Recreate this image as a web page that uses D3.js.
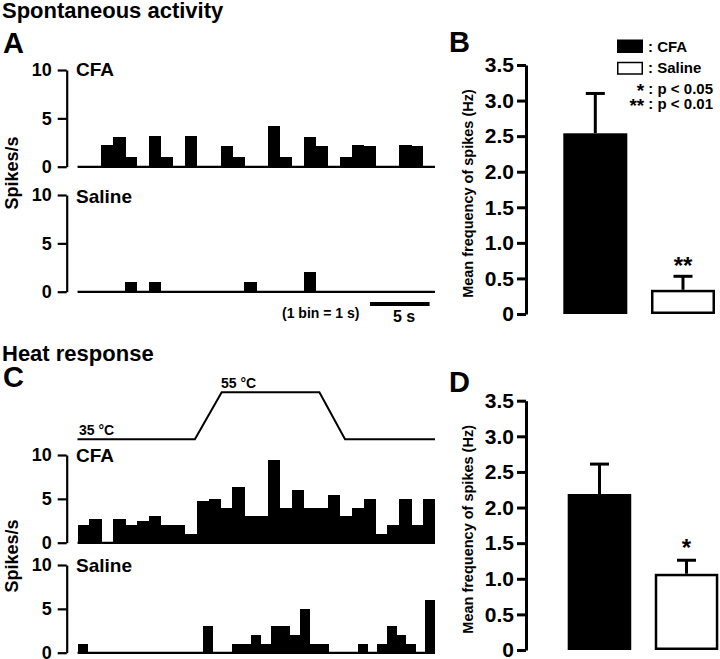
<!DOCTYPE html>
<html>
<head>
<meta charset="utf-8">
<script src="https://cdn.jsdelivr.net/npm/d3@7"></script>
<style>
html,body{margin:0;padding:0;background:#fff;}
svg{display:block;}
text{font-family:"Liberation Sans",Arial,Helvetica,sans-serif;font-weight:bold;fill:#000;}
</style>
</head>
<body>
<script>
// ---- data ----
const spontCFA    = [0,0,2.2,3.1,1,0,3.2,1,0,3.2,0,0,2.1,1,0,0,4.2,1,0,3.1,2.1,0,1,2.2,2.1,0,0,2.2,2.1,0];
const spontSaline = [0,0,0,0,1,0,1,0,0,0,0,0,0,0,1,0,0,0,0,2,0,0,0,0,0,0,0,0,0,0];
const heatCFA     = [2,2.7,0,2.7,2,2.5,3,2,2,1,4.7,5,4,6.4,3,3,9.4,4,6,4,4,5.4,3,4,5,1,2,5,2,5];
const heatSaline  = [1,0,0,0,0,0,0,0,0,0,0,0,0,3,0,0,1,1,2,1,3,3,2,5,1,1,0,0,0,1,0,1,3,2,1,0,6];
const tempTime    = [0,9.85,12.1,20.3,22.45,30];
const tempValue   = [35,35,55,55,35,35];
const histTicks   = [0,5,10];
const groups      = ["CFA","Saline"];
const meanSpont   = [2.54,0.34];
const semSpont    = [0.56,0.19];
const sigSpont    = ["","**"];
const meanHeat    = [2.19,1.07];
const semHeat     = [0.42,0.19];
const sigHeat     = ["","*"];
const barTicks    = [0,0.5,1.0,1.5,2.0,2.5,3.0,3.5];

const W=720,H=659;
const svg=d3.select("body").append("svg").attr("width",W).attr("height",H);

function txt(x,y,s,size,anchor){
  return svg.append("text").attr("x",x).attr("y",y).attr("font-size",size)
    .attr("text-anchor",anchor||"start").text(s);
}

// ---- titles and panel letters ----
txt(2,18,"Spontaneous activity",22);
txt(2,361,"Heat response",22);
txt(3,53,"A",29);
txt(3,387,"C",29);
txt(449,52,"B",29);
txt(449,392,"D",29);

// ---- histograms ----
function hist(values,y0,y10,label,labelY){
  const x=d3.scaleLinear().domain([0,values.length]).range([77.5,435]);
  const y=d3.scaleLinear().domain([0,10]).range([y0,y10]);
  const g=svg.append("g");
  g.append("line").attr("x1",x(0)).attr("x2",x(values.length))
    .attr("y1",y(0)).attr("y2",y(0)).attr("stroke","#000").attr("stroke-width",2);
  g.selectAll("rect.bin").data(values).enter().append("rect")
    .attr("class","bin")
    .attr("x",(d,i)=>x(i)).attr("width",(d,i)=>x(i+1)-x(i)+0.4)
    .attr("y",d=>y(d)).attr("height",d=>y(0)-y(d)+1)
    .attr("fill","#000").attr("shape-rendering","crispEdges");
  const ax=g.append("g").attr("transform","translate(66.7,0)")
    .call(d3.axisLeft(y).tickValues(histTicks).tickSize(9).tickSizeOuter(0).tickPadding(6).tickFormat(d3.format("d")));
  ax.select(".domain").attr("stroke-width",2.2);
  ax.selectAll(".tick line").attr("stroke-width",2.2);
  ax.selectAll(".tick text").attr("font-size",18).attr("font-family","'Liberation Sans',Arial,sans-serif").attr("font-weight","bold");
  txt(76,labelY,label,19);
  return x;
}
hist(spontCFA,166.7,70,"CFA",76);
hist(spontSaline,291.7,195,"Saline",203);
const xHeat=hist(heatCFA,542.7,455,"CFA",462);
hist(heatSaline,652.7,565,"Saline",572);

svg.append("text").attr("font-size",18)
  .attr("transform","translate(18,173) rotate(-90)").attr("text-anchor","middle").text("Spikes/s");
svg.append("text").attr("font-size",18)
  .attr("transform","translate(18,556) rotate(-90)").attr("text-anchor","middle").text("Spikes/s");

// scale bar
const xSpont=d3.scaleLinear().domain([0,30]).range([77.5,435]);
svg.append("line").attr("x1",370).attr("x2",370+xSpont(5)-xSpont(0)).attr("y1",304).attr("y2",304)
  .attr("stroke","#000").attr("stroke-width",4);
txt(282,318,"(1 bin = 1 s)",14);
txt(404,322,"5 s",16,"middle");

// temperature trace
const yT=d3.scaleLinear().domain([35,55]).range([439.3,392.3]);
svg.append("path").datum(d3.zip(tempTime,tempValue))
  .attr("d",d3.line().x(d=>xHeat(d[0])).y(d=>yT(d[1])))
  .attr("fill","none").attr("stroke","#000").attr("stroke-width",2);
txt(79,435,"35 °C",14);
txt(221,388,"55 °C",14);

// ---- bar charts ----
function bars(means,sems,sigs,y0,y35,x0,x1,yLabel,sigY){
  const y=d3.scaleLinear().domain([0,3.5]).range([y0,y35]);
  const x=d3.scaleBand().domain(groups).range([x0,x1]).paddingInner(0.27).paddingOuter(0);
  const g=svg.append("g");
  const ax=g.append("g").attr("transform","translate(526,0)")
    .call(d3.axisLeft(y).tickValues(barTicks).tickSize(9).tickSizeOuter(0).tickPadding(3)
      .tickFormat(d=>d===0?"0":d3.format(".1f")(d)));
  ax.select(".domain").attr("stroke-width",3);
  ax.selectAll(".tick line").attr("stroke-width",3);
  ax.selectAll(".tick text").attr("font-size",21).attr("font-family","'Liberation Sans',Arial,sans-serif").attr("font-weight","bold");
  groups.forEach((gname,i)=>{
    const cx=x(gname)+x.bandwidth()/2;
    const top=y(means[i]+sems[i]);
    g.append("line").attr("x1",cx).attr("x2",cx).attr("y1",y(means[i])).attr("y2",top)
      .attr("stroke","#000").attr("stroke-width",3);
    g.append("line").attr("x1",cx-9.5).attr("x2",cx+9.5).attr("y1",top).attr("y2",top)
      .attr("stroke","#000").attr("stroke-width",3);
    if(i===0){
      g.append("rect").attr("x",x(gname)).attr("width",x.bandwidth())
        .attr("y",y(means[i])).attr("height",y(0)-y(means[i])).attr("fill","#000");
    }else{
      g.append("rect").attr("x",x(gname)+1.25).attr("width",x.bandwidth()-2.5)
        .attr("y",y(means[i])+1.25).attr("height",y(0)-y(means[i])-2.5)
        .attr("fill","#fff").attr("stroke","#000").attr("stroke-width",2.5);
    }
    if(sigs[i]) txt(cx,sigY,sigs[i],24,"middle");
  });
  svg.append("text").attr("font-size",14.5)
    .attr("transform",`translate(473,${(y0+y35)/2+4}) rotate(-90)`).attr("text-anchor","middle")
    .text(yLabel);
}
bars(meanSpont,semSpont,sigSpont,314,65,563.3,715,"Mean frequency of spikes (Hz)",274);
bars(meanHeat,semHeat,sigHeat,650,400.7,567.7,718.3,"Mean frequency of spikes (Hz)",556);

// legend
svg.append("rect").attr("x",617).attr("y",39.5).attr("width",26).attr("height",13.5).attr("fill","#000");
svg.append("rect").attr("x",617.75).attr("y",62.5).attr("width",24.5).attr("height",11.5)
  .attr("fill","#fff").attr("stroke","#000").attr("stroke-width",1.5);
txt(648,52,": CFA",15);
txt(648,73,": Saline",15);
const l1=svg.append("text").attr("x",713).attr("y",94).attr("font-size",15).attr("text-anchor","end");
l1.append("tspan").attr("font-size",19).attr("dy",3).text("*");
l1.append("tspan").attr("dy",-3).text(" : p < 0.05");
const l2=svg.append("text").attr("x",713).attr("y",109).attr("font-size",15).attr("text-anchor","end");
l2.append("tspan").attr("font-size",19).attr("dy",3).text("**");
l2.append("tspan").attr("dy",-3).text(" : p < 0.01");
</script>
</body>
</html>
